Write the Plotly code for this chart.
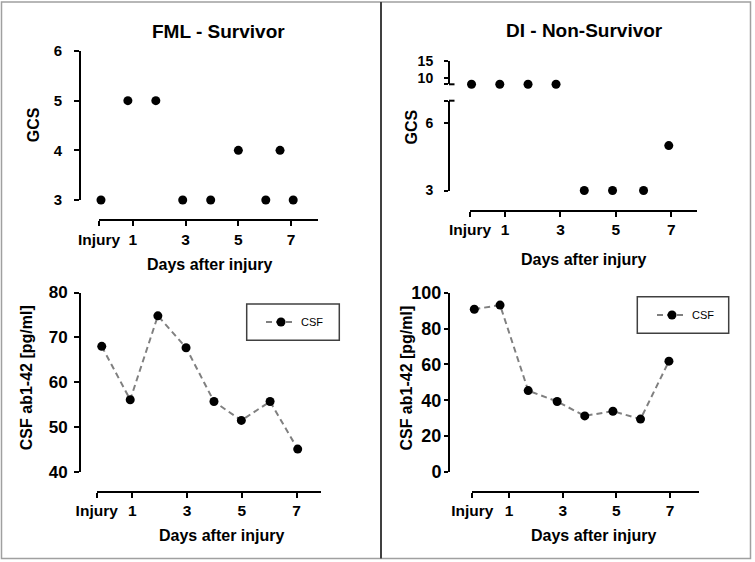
import plotly.graph_objects as go

# ---------------- data ----------------
tick_days = [1, 3, 5, 7]
tick_labels = ["Injury", "1", "3", "5", "7"]

fml_gcs_days = [-0.21, 0.81, 1.87, 2.89, 3.95, 5.0, 6.04, 6.58, 7.08]
fml_gcs = [3, 5, 5, 3, 3, 4, 3, 4, 3]

di_gcs_days = [-0.21, 0.81, 1.83, 2.84, 3.86, 4.88, 6.0, 6.91]
di_gcs = [8, 8, 8, 8, 3, 3, 3, 5]

fml_csf_days = [-0.12, 0.92, 1.93, 2.96, 3.98, 4.98, 6.03, 7.04]
fml_csf = [68.0, 56.1, 74.8, 67.7, 55.7, 51.5, 55.7, 45.1]

di_csf_days = [-0.30, 0.66, 1.71, 2.79, 3.82, 4.87, 5.90, 6.96]
di_csf = [90.8, 93.1, 45.4, 39.3, 31.3, 33.9, 29.5, 61.8]

W, H = 755, 562
FONT = "Liberation Sans"


def px(x):
    return x / W


def py(y):
    return 1 - y / H


fig = go.Figure()

mk = dict(color="black", size=9)
line_style = dict(color="#808080", width=2, dash="6px,4px")

# top-left GCS
fig.add_trace(go.Scatter(x=fml_gcs_days, y=fml_gcs, mode="markers", marker=mk,
                         xaxis="x", yaxis="y", cliponaxis=False, showlegend=False))
# top-right GCS, split over the broken axis
up_x = [d for d, g in zip(di_gcs_days, di_gcs) if g > 7]
up_y = [g for g in di_gcs if g > 7]
lo_x = [d for d, g in zip(di_gcs_days, di_gcs) if g <= 7]
lo_y = [g for g in di_gcs if g <= 7]
fig.add_trace(go.Scatter(x=up_x, y=up_y, mode="markers", marker=mk,
                         xaxis="x2", yaxis="y2", cliponaxis=False, showlegend=False))
fig.add_trace(go.Scatter(x=lo_x, y=lo_y, mode="markers", marker=mk,
                         xaxis="x2", yaxis="y3", cliponaxis=False, showlegend=False))
# bottom CSF
fig.add_trace(go.Scatter(x=fml_csf_days, y=fml_csf, mode="lines+markers", marker=mk,
                         line=line_style, name="CSF", xaxis="x4", yaxis="y4",
                         cliponaxis=False, legend="legend"))
fig.add_trace(go.Scatter(x=di_csf_days, y=di_csf, mode="lines+markers", marker=mk,
                         line=line_style, name="CSF", xaxis="x5", yaxis="y5",
                         cliponaxis=False, legend="legend2"))

common = dict(showline=True, linecolor="black", linewidth=2, ticks="outside",
              ticklen=5, tickwidth=2, tickcolor="black", showgrid=False,
              zeroline=False, anchor="free", tickmode="array", automargin=False)


def tf(size):
    return dict(family=FONT, size=size, color="black", weight="bold")


def xax(x0, x1, yline, r0, r1):
    return dict(common, domain=[px(x0), px(x1)], position=py(yline), range=[r0, r1],
                tickvals=[r0] + tick_days, ticktext=tick_labels, ticklabelstandoff=0,
                tickfont=tf(15.5))


def yax(y0, y1, xline, r0, r1, vals, texts, standoff, size, ticklen=5):
    return dict(common, domain=[py(y1), py(y0)], position=px(xline), range=[r0, r1],
                tickvals=vals, ticktext=texts, ticklabelstandoff=standoff,
                tickfont=tf(size), ticklen=ticklen)


fig.update_layout(
    xaxis=xax(99, 318, 220, -0.285, 8.02),
    yaxis=yax(51, 200, 80, 3, 6, [3, 4, 5, 6], ["3", "4", "5", "6"], 9, 15),
    xaxis2=xax(470, 697.3, 210.7, -0.265, 7.94),
    yaxis2=yax(61, 84.3, 449, 8, 15, [8, 10, 15], ["", "10", "15"], 8, 14, 4),
    yaxis3=yax(100.7, 190.5, 449, 3, 7, [3, 6, 7], ["3", "6", ""], 8, 14, 4),
    xaxis4=xax(96.7, 320.7, 491.7, -0.305, 7.88),
    yaxis4=yax(292.5, 472, 80, 40, 80, [40, 50, 60, 70, 80],
               ["40", "50", "60", "70", "80"], 3, 17),
    xaxis5=xax(472.3, 698.7, 491.7, -0.375, 8.07),
    yaxis5=yax(292.7, 472, 449, 0, 100, [0, 20, 40, 60, 80, 100],
               ["0", "20", "40", "60", "80", "100"], -1, 18, 4),
    legend=dict(x=px(261), y=py(322), xanchor="left", yanchor="middle",
                bgcolor="rgba(0,0,0,0)", borderwidth=0,
                font=dict(family=FONT, size=11, color="black")),
    legend2=dict(x=px(652), y=py(315), xanchor="left", yanchor="middle",
                 bgcolor="rgba(0,0,0,0)", borderwidth=0,
                 font=dict(family=FONT, size=11, color="black")),
    width=W, height=H, margin=dict(l=0, r=0, t=0, b=0, pad=0, autoexpand=False),
    paper_bgcolor="white", plot_bgcolor="white",
    font=dict(family=FONT, color="black"),
)


def ann(text, x, y, size, angle=0):
    fig.add_annotation(text=text, x=px(x), y=py(y), xref="paper", yref="paper",
                       showarrow=False, textangle=angle, xanchor="center", yanchor="middle",
                       font=dict(family=FONT, size=size, color="black", weight="bold"))


ann("FML - Survivor", 218, 31.7, 19)
ann("DI - Non-Survivor", 584, 30, 19)
ann("GCS", 33.3, 125, 16, -90)
ann("GCS", 410.5, 127, 16, -90)
ann("Days after injury", 209, 264, 16)
ann("Days after injury", 583.8, 259, 16)
ann("CSF ab1-42 [pg/ml]", 26.7, 377.5, 16, -90)
ann("CSF ab1-42 [pg/ml]", 406.3, 378.3, 16, -90)
ann("Days after injury", 221, 535.8, 16)
ann("Days after injury", 593.8, 535.8, 16)


def rect(x0, y0, x1, y1, color, width):
    fig.add_shape(type="rect", xref="paper", yref="paper", x0=px(x0), x1=px(x1),
                  y0=py(y0), y1=py(y1), line=dict(color=color, width=width))


def seg(x0, y0, x1, y1, color, width):
    fig.add_shape(type="line", xref="paper", yref="paper", x0=px(x0), x1=px(x1),
                  y0=py(y0), y1=py(y1), line=dict(color=color, width=width))


# outer frame, panel divider, legend boxes, axis-break marks
rect(1.5, 2, 750.5, 558.5, "#a0a0a0", 1.5)
seg(381, 2, 381, 558.5, "#404040", 2)
rect(246.7, 304, 339.3, 340.3, "#404040", 1.5)
rect(637.3, 296.7, 728.7, 333.3, "#404040", 1.5)
seg(449, 84.3, 454.5, 84.3, "black", 2)
seg(449, 100.7, 454.5, 100.7, "black", 2)

fig.write_html("out.html", post_script="document.body.style.margin='0';",
               config={"displayModeBar": False})
